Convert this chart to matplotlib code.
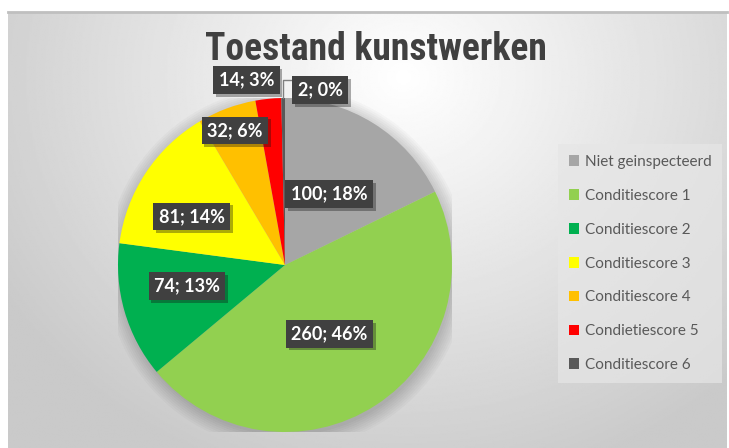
import numpy as np
import matplotlib.pyplot as plt
import matplotlib.patheffects as pe
from matplotlib.patches import Circle

categories = ['Niet geinspecteerd', 'Conditiescore 1', 'Conditiescore 2', 'Conditiescore 3',
              'Conditiescore 4', 'Condietiescore 5', 'Conditiescore 6']
counts = [100, 260, 74, 81, 32, 14, 2]
percents = [18, 46, 13, 14, 6, 3, 0]
colors = ['#a6a6a6', '#92d050', '#00b050', '#ffff00', '#ffc000', '#ff0000', '#595959']
title = 'Toestand kunstwerken'

# label placement (radius fraction, angle shift in degrees, counter-clockwise)
label_r = [0.5, 0.49, 0.6, 0.63, 0.86, 1.13, 1.07]
label_shift = [0, 0, -4, 6, 0, 6, -12]

W, H = 729, 448
fig = plt.figure(figsize=(W / 100, H / 100), dpi=100)
fig.patch.set_facecolor('white')

# chart area background with soft radial gradient
bg = fig.add_axes([8 / W, 0, (727 - 8) / W, (H - 12) / H])
yy, xx = np.mgrid[0:1:300j, 0:1:500j]
d = np.sqrt(((xx - 0.55) / 0.75) ** 2 + ((yy - 0.15) / 1.1) ** 2)
shade = np.clip(1.0 - 0.24 * d, 0.79, 1.0)
bg.imshow(shade, cmap='gray', vmin=0, vmax=1, aspect='auto', extent=[0, 1, 1, 0])
bg.set_axis_off()
fig.add_artist(plt.Line2D([8 / W, 727 / W], [1 - 12 / H, 1 - 12 / H], color='#bfbfbf', lw=2,
                          transform=fig.transFigure))

# pie
cx, cy, r = 285, 265, 167
ax = fig.add_axes([(cx - r) / W, (H - cy - r) / H, 2 * r / W, 2 * r / H])

for k in range(8):
    ax.add_patch(Circle((0.01, -0.02), 1.0 + 0.012 * k, color='black', alpha=0.025, lw=0, zorder=0))

wedges, _ = ax.pie(counts, colors=colors, startangle=90, counterclock=False, radius=1,
                   wedgeprops=dict(linewidth=0))
ax.set_xlim(-1, 1)
ax.set_ylim(-1, 1)
ax.set_aspect('equal')
ax.set_axis_off()

label_font = ['Lato', 'DejaVu Sans']
for i, w in enumerate(wedges):
    mid = (w.theta1 + w.theta2) / 2 + label_shift[i]
    a = np.deg2rad(mid)
    x, y = label_r[i] * np.cos(a), label_r[i] * np.sin(a)
    t = ax.text(x, y, f'{counts[i]}; {percents[i]}%', ha='center', va='center', color='white',
                fontsize=13, fontweight='bold', family=label_font, zorder=5, clip_on=False,
                bbox=dict(boxstyle='square,pad=0.3', facecolor='#404040', edgecolor='none'))
    t.get_bbox_patch().set_path_effects([pe.SimplePatchShadow(offset=(2, -2), alpha=0.35), pe.Normal()])
    if i == len(wedges) - 1:
        # leader line from the thin slice to its label
        wa = np.deg2rad((w.theta1 + w.theta2) / 2)
        px, py = np.cos(wa), np.sin(wa)
        ax.plot([px, px, x - 0.17], [py, y + 0.06, y + 0.06], color='#7f7f7f', lw=1, zorder=4,
                clip_on=False)

fig.text(376 / W, 1 - 50 / H, title, ha='center', va='center', fontsize=27, fontweight='bold',
         color='#404040', family=['Roboto Condensed', 'DejaVu Sans'])

leg = fig.legend(wedges, categories, loc='center left', bbox_to_anchor=(558 / W, 1 - 263.5 / H),
                 frameon=True, fancybox=False, labelspacing=1.3, borderaxespad=0,
                 handlelength=0.7, handleheight=0.7, handletextpad=0.35, borderpad=0.7,
                 prop={'family': ['Lato', 'DejaVu Sans'], 'size': 11})
leg.get_frame().set_facecolor('#e6e6e6')
leg.get_frame().set_edgecolor('none')
leg.get_frame().set_alpha(0.7)
for txt in leg.get_texts():
    txt.set_color('#595959')

fig.savefig('out.png', dpi=100)
